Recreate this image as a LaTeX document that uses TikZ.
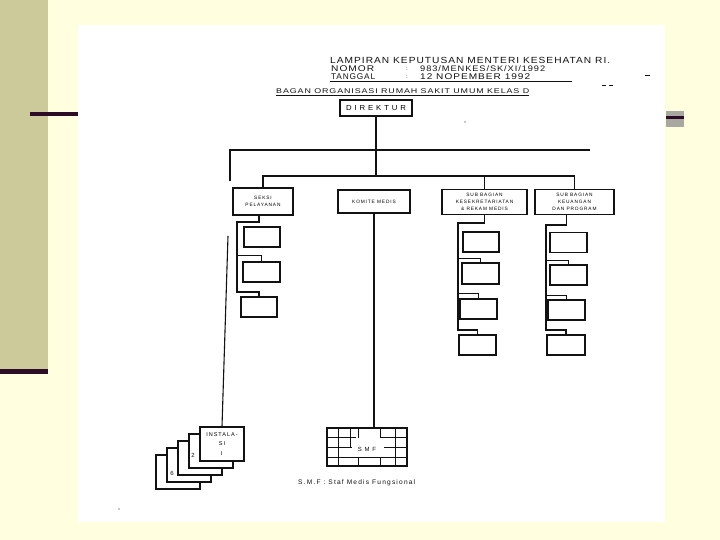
\documentclass[tikz,border=0pt]{standalone}
\usepackage{fontspec}
\setmainfont{Liberation Sans}
\newfontfamily\lblfont[LetterSpace=18]{Liberation Sans}
\newfontfamily\hdrfont[LetterSpace=10]{Liberation Sans}
\usepackage{graphicx}
\definecolor{bgY}{RGB}{255,255,224}
\definecolor{olv}{RGB}{204,201,154}
\definecolor{barc}{RGB}{45,12,40}
\definecolor{grayb}{RGB}{168,168,160}
\definecolor{ink}{RGB}{18,18,18}
\begin{document}
\begin{tikzpicture}[x=1pt,y=-1pt,
  ln/.style={draw=ink, line width=1.1pt},
  bx/.style={draw=ink, line width=1.2pt, fill=white, inner sep=0pt, align=center,
     font=\lblfont\fontsize{4.8}{7}\selectfont},
  txt/.style={inner sep=0pt, text=ink},
  ]
\useasboundingbox (0,0) rectangle (720,540);
% slide background
\fill[bgY] (0,0) rectangle (720,540);
\fill[olv] (0,0) rectangle (48,369);
\fill[barc] (0,369) rectangle (48,374);
\fill[barc] (30,112) rectangle (78,116);
\fill[grayb] (666,111) rectangle (684,127);
\fill[barc] (666,116) rectangle (684,119);
\fill[white] (78,25) rectangle (665,522);

% header
\node[txt, anchor=west] (h1) at (330,60) {\resizebox{280pt}{6.2pt}{\hdrfont LAMPIRAN KEPUTUSAN MENTERI KESEHATAN RI.}};
\node[txt, anchor=west] (h2a) at (331,68.5) {\resizebox{43pt}{5.8pt}{\hdrfont NOMOR}};
\node[txt] (h2b) at (407,68.5) {\fontsize{6}{6}\selectfont :};
\node[txt, anchor=west] (h2c) at (420,68.5) {\resizebox{125pt}{5.8pt}{\hdrfont 983/MENKES/SK/XI/1992}};
\node[txt, anchor=west] (h3a) at (331,76.5) {\resizebox{44pt}{5.8pt}{\hdrfont TANGGAL}};
\node[txt] (h3b) at (407,76.5) {\fontsize{6}{6}\selectfont :};
\node[txt, anchor=west] (h3c) at (420,76.5) {\resizebox{110pt}{5.8pt}{\hdrfont 12 NOPEMBER 1992}};
\draw[ln, line width=0.8pt] (330,81) -- (572,81);
\draw[ln, line width=0.8pt] (602,85) -- (606,85) (609,85) -- (613,85) (645,75) -- (650,75);
\node[txt, anchor=west] (h4) at (276,91.5) {\resizebox{253pt}{4.8pt}{\hdrfont BAGAN ORGANISASI RUMAH SAKIT UMUM KELAS D}};
\draw[ln, line width=0.8pt] (276,95.5) -- (529,95.5);

% main boxes
\node[bx, minimum width=72pt, minimum height=16pt] (dir) at (376,108)
  {\resizebox{60pt}{5pt}{\hdrfont D I R E K T U R}};
\node[bx, minimum width=60pt, minimum height=27pt] (seksi) at (263,201.5) {SEKSI\\PELAYANAN};
\node[bx, minimum width=72pt, minimum height=23pt] (komite) at (374,201.5) {KOMITE MEDIS};
\node[bx, minimum width=85pt, minimum height=25pt] (sb1) at (484.5,202) {SUB BAGIAN\\KESEKRETARIATAN\\\& REKAM MEDIS};
\node[bx, minimum width=79pt, minimum height=25pt] (sb2) at (574.5,202) {SUB BAGIAN\\KEUANGAN\\DAN PROGRAM};

% top bus
\coordinate (bl) at (230,150);
\coordinate (br) at (590,150);
\coordinate (blE) at (230,181);
\draw[ln] (blE) -- (bl) -- (br);
\coordinate (hb) at (0,176);
\draw[ln] (dir.south) -- (dir.south |- hb);
\draw[ln] (seksi.north) -- (seksi.north |- hb) -- (sb2.north |- hb) -- (sb2.north);
\draw[ln] (sb1.north |- hb) -- (sb1.north);

% seksi sub boxes
\node[bx, minimum width=36pt, minimum height=20pt] (s1) at (262,237) {};
\node[bx, minimum width=37pt, minimum height=20pt] (s2) at (261.5,272) {};
\node[bx, minimum width=36pt, minimum height=20pt] (s3) at (259,307) {};
\coordinate (sTop) at (237,222);
\coordinate (sBot) at (237,292);
\draw[ln] ([xshift=-4pt]seksi.south) |- (sTop) -- (sBot) -| (s3.north);
\draw[ln] (sTop |- s2.north) ++(0,-6) -| (s2.north);

% kesekretariatan sub boxes
\node[bx, minimum width=36pt, minimum height=20pt] (k1) at (481,242) {};
\node[bx, minimum width=37pt, minimum height=21pt] (k2) at (480.5,273.5) {};
\node[bx, minimum width=37pt, minimum height=20pt] (k3) at (478.5,309) {};
\node[bx, minimum width=37pt, minimum height=20pt] (k4) at (477.5,345) {};
\coordinate (kTop) at (458,223);
\coordinate (kBot) at (458,330);
\draw[ln] (sb1.south) |- (kTop) -- (kBot) -| (k4.north);
\draw[ln] (kTop |- k2.north) ++(0,-4) -| (k2.north);
\draw[ln] (kTop |- k3.north) ++(0,-5) -| (k3.north);

% keuangan sub boxes
\node[bx, minimum width=37pt, minimum height=20pt] (f1) at (568.5,242.5) {};
\node[bx, minimum width=37pt, minimum height=20pt] (f2) at (568.5,275) {};
\node[bx, minimum width=37pt, minimum height=20pt] (f3) at (566.5,310) {};
\node[bx, minimum width=38pt, minimum height=20pt] (f4) at (566,345) {};
\coordinate (fTop) at (546,225);
\coordinate (fBot) at (546,330);
\draw[ln] ([xshift=-8pt]sb2.south) |- (fTop) -- (fBot) -| (f4.north);
\draw[ln] (fTop |- f2.north) ++(0,-4) -| (f2.north);
\draw[ln] (fTop |- f3.north) ++(0,-4) -| (f3.north);

% instalasi stack
\node[bx, minimum width=44pt, minimum height=34pt] (ins5) at (178,472) {};
\node[bx, minimum width=44pt, minimum height=34pt] (ins4) at (189,465) {};
\node[bx, minimum width=44pt, minimum height=34pt] (ins3) at (200,458) {};
\node[bx, minimum width=44pt, minimum height=34pt] (ins2) at (211,451) {};
\node[bx, minimum width=44pt, minimum height=34pt, font=\lblfont\fontsize{5.5}{9.5}\selectfont] (ins1) at (222,444) {INSTALA-\\SI\\I};
\node[txt, font=\fontsize{6}{6}\selectfont] (n2) at (193,455) {2};
\node[txt, font=\fontsize{6}{6}\selectfont] (n6) at (172,473) {6};
\coordinate (lt) at (228,236);
\draw[ln] (lt) -- (ins1.north);

% SMF grid
\node[bx, minimum width=80pt, minimum height=38pt] (smf) at (367,447) {};
\draw[ln, line width=0.8pt]
  (327,437) -- (356,437) (380,437) -- (407,437)
  (327,447) -- (352,447) (384,447) -- (407,447)
  (327,457) -- (407,457)
  (338,428) -- (338,466) (350,428) -- (350,447)
  (358,428) -- (358,438) (358,457) -- (358,466)
  (380,428) -- (380,438) (380,457) -- (380,466)
  (395,428) -- (395,466);
\node[txt, font=\lblfont\fontsize{6}{6}\selectfont] (smft) at (367,449) {S M F};
\draw[ln] (komite.south) -- (komite.south |- smf.north);
\node[txt, anchor=west] (cap) at (298,483) {\resizebox{117pt}{!}{\lblfont\fontsize{5}{5}\selectfont S.M.F : Staf Medis Fungsional}};

% specks
\fill[ink] (465,122) circle (0.6pt);
\fill[ink] (119,509) circle (0.6pt);
\end{tikzpicture}
\end{document}
